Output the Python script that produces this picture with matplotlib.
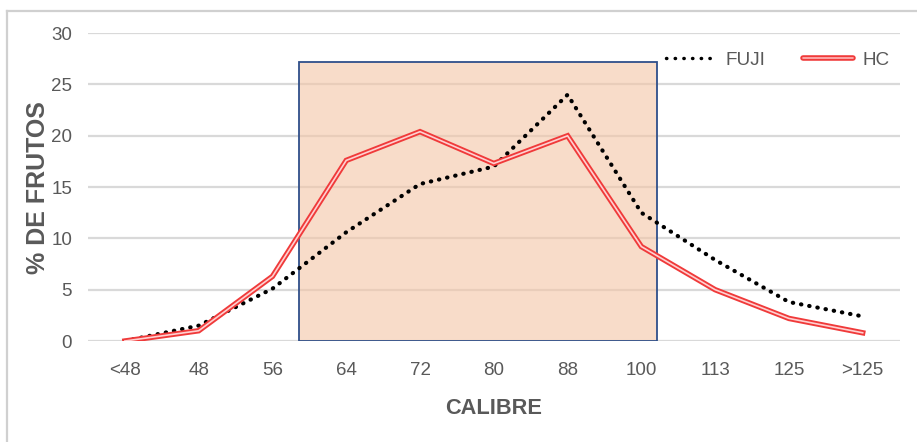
import matplotlib
matplotlib.use("Agg")
import matplotlib.pyplot as plt
from matplotlib.lines import Line2D
from matplotlib.patches import Rectangle

# size classes and % of fruits per class
calibres = ["<48", "48", "56", "64", "72", "80", "88", "100", "113", "125", ">125"]
fuji = [0.0, 1.5, 5.1, 10.6, 15.3, 17.0, 24.0, 12.5, 7.9, 3.8, 2.4]
hc = [0.0, 1.0, 6.3, 17.6, 20.4, 17.3, 20.0, 9.2, 5.0, 2.2, 0.8]
yticks = [0, 5, 10, 15, 20, 25, 30]

plt.rcParams["font.family"] = ["Liberation Sans", "DejaVu Sans"]
grey = "#595959"

fig = plt.figure(figsize=(9.17, 4.42), dpi=100)
ax = fig.add_axes([0.096, 0.2285, 0.885, 0.6965])

x = list(range(len(calibres)))

ax.set_axisbelow(True)
ax.yaxis.grid(True, color="#d9d9d9", linewidth=1.6)
for s in ax.spines.values():
    s.set_visible(False)

# highlighted range of calibres
ax.add_patch(Rectangle((2.36, 0), 4.85, 27.2, facecolor="#F4C5A6", alpha=0.6,
                       edgecolor="none", zorder=1.5))
ax.add_patch(Rectangle((2.36, 0), 4.85, 27.2, facecolor="none",
                       edgecolor="#2F4F8A", linewidth=1.3, zorder=2.5))

ax.plot(x, fuji, color="black", linestyle=(0, (0.1, 1.9)), linewidth=3.0,
        dash_capstyle="round", zorder=3)
ax.plot(x, hc, color="#F03A3A", linewidth=3.9, zorder=3, solid_joinstyle="miter")
ax.plot(x, hc, color="#FFD0D0", linewidth=1.2, zorder=3.1, solid_joinstyle="miter")

ax.set_xlim(-0.5, 10.5)
ax.set_ylim(0, 30)
ax.set_xticks(x)
ax.set_xticklabels(calibres)
ax.set_yticks(yticks)
ax.tick_params(axis="both", length=0, labelsize=13.5, labelcolor=grey)
ax.tick_params(axis="x", pad=15)
ax.tick_params(axis="y", pad=11.5)

ax.set_xlabel("CALIBRE", fontsize=15.7, fontweight="bold", color=grey)
ax.xaxis.set_label_coords(0.5, -0.185)
ax.set_ylabel("% DE FRUTOS", fontsize=18, fontweight="bold", color=grey)
ax.yaxis.set_label_coords(-0.047, 0.5)

fuji_handle = Line2D([], [], color="black", linestyle=(0, (0.1, 2.4)),
                     linewidth=2.5, dash_capstyle="round")
hc_handle = (Line2D([], [], color="#F03A3A", linewidth=4.0, solid_capstyle="round"),
             Line2D([], [], color="#FFB8B8", linewidth=1.2, solid_capstyle="round"))
ax.legend([fuji_handle, hc_handle], ["FUJI", "HC"], loc="center right",
          bbox_to_anchor=(0.988, 0.912), ncol=2, frameon=False,
          fontsize=13.6, labelcolor=grey, handlelength=2.65, columnspacing=2.0,
          handletextpad=0.5, borderpad=0, borderaxespad=0)

# light border on top and left of the picture
fig.add_artist(Line2D([7 / 917, 1.0], [1 - 11 / 442, 1 - 11 / 442],
                      transform=fig.transFigure, color="#d0d0d0", linewidth=1.6))
fig.add_artist(Line2D([7 / 917, 7 / 917], [0.0, 1 - 11 / 442],
                      transform=fig.transFigure, color="#d0d0d0", linewidth=1.6))

fig.savefig("out.png", dpi=100)
